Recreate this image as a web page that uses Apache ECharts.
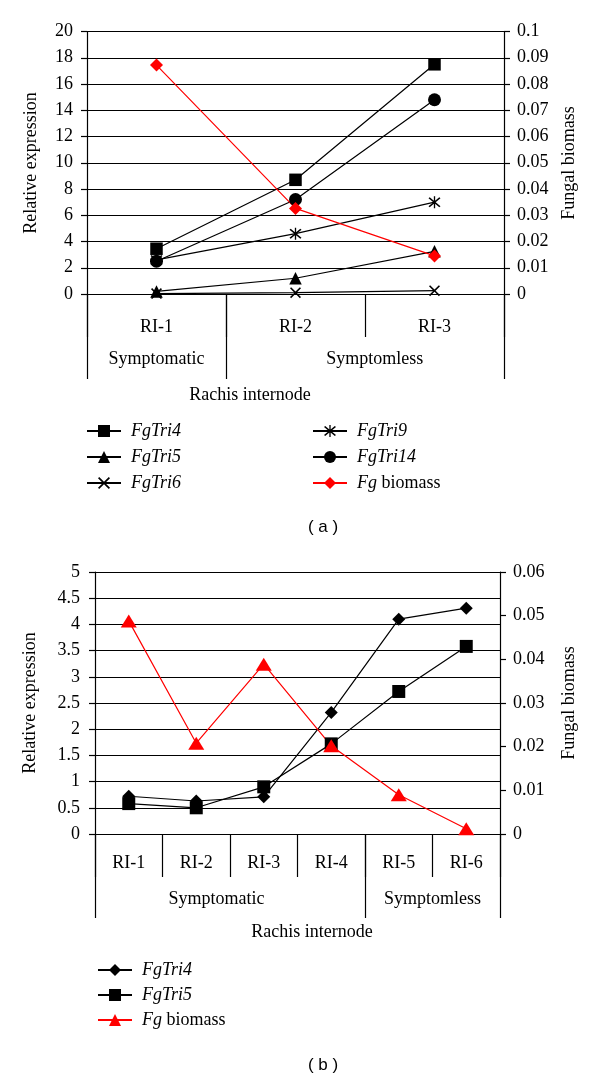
<!DOCTYPE html>
<html>
<head>
<meta charset="utf-8">
<script src="https://cdn.jsdelivr.net/npm/echarts@6/dist/echarts.min.js"></script>
<style>
html,body{margin:0;padding:0;background:#fff;}
#a{position:absolute;left:0;top:0;width:600px;height:545px;}
#b{position:absolute;left:0;top:545px;width:600px;height:536px;}
</style>
</head>
<body>
<div id="a"></div>
<div id="b"></div>
<script>
// ---------- Data: chart (a) ----------
const catsA = ['RI-1', 'RI-2', 'RI-3'];
const groupsA = ['Symptomatic', 'Symptomless'];
const fgTri4A = [3.45, 8.7, 17.5];
const fgTri5A = [0.2, 1.2, 3.25];
const fgTri6A = [0.03, 0.1, 0.25];
const fgTri9A = [2.6, 4.6, 7.0];
const fgTri14A = [2.5, 7.2, 14.8];
const biomassA = [0.0872, 0.0326, 0.0145];

// ---------- Data: chart (b) ----------
const catsB = ['RI-1', 'RI-2', 'RI-3', 'RI-4', 'RI-5', 'RI-6'];
const groupsB = ['Symptomatic', 'Symptomless'];
const fgTri4B = [0.72, 0.63, 0.71, 2.32, 4.1, 4.31];
const fgTri5B = [0.58, 0.5, 0.9, 1.72, 2.72, 3.58];
const biomassB = [0.0488, 0.0208, 0.0389, 0.0202, 0.009, 0.0012];

const FONT = 'Liberation Serif';
const FS = 18;
const X_PATH = 'path://M0,1L1,0L5,4L9,0L10,1L6,5L10,9L9,10L5,6L1,10L0,9L4,5Z';
const AST_PATH = 'path://M0,1L1,0L5,4L9,0L10,1L6,5L10,9L9,10L5,6L1,10L0,9L4,5ZM4.45,-1L5.55,-1L5.55,11L4.45,11Z';

function legendFmt(name) {
  if (name === 'Fg biomass') return '{i|Fg} {n|biomass}';
  return '{i|' + name + '}';
}
const legendText = {
  color: '#000', fontFamily: FONT, fontSize: FS, padding: [0, 0, 0, 5], lineHeight: 17,
  rich: {
    i: { fontStyle: 'italic', fontFamily: FONT, fontSize: FS, color: '#000', lineHeight: 17 },
    n: { fontFamily: FONT, fontSize: FS, color: '#000', lineHeight: 17 }
  }
};
function lineSeries(name, data, symbol, size, color, yIdx) {
  return {
    name: name, type: 'line', data: data, xAxisIndex: 0, yAxisIndex: yIdx,
    symbol: symbol, symbolSize: size, showAllSymbol: true,
    lineStyle: { color: color, width: 1.2 },
    itemStyle: { color: color },
    emphasis: { disabled: true }, animation: false
  };
}
function fmtNum(v) { return String(+v.toFixed(3)); }

function buildOption(cfg) {
  return {
    animation: false,
    grid: { left: cfg.left, top: cfg.top, width: cfg.width, height: cfg.height, containLabel: false },
    xAxis: [
      {
        type: 'category', data: cfg.cats, boundaryGap: true,
        axisLine: { show: true, lineStyle: { color: '#000', width: 1.2 } },
        axisTick: { show: true, length: cfg.tickLen, lineStyle: { color: '#000', width: 1.2 } },
        axisLabel: { color: '#000', fontFamily: FONT, fontSize: FS, margin: cfg.labelMargin, interval: 0 },
        splitLine: { show: false }
      },
      {
        type: 'value', min: 0, max: cfg.cats.length, position: 'bottom',
        axisLine: { show: false },
        axisTick: { show: true, customValues: cfg.groupBounds, length: cfg.groupTickLen, lineStyle: { color: '#000', width: 1.2 } },
        axisLabel: {
          show: true, customValues: cfg.groupCenters, margin: cfg.groupMargin,
          color: '#000', fontFamily: FONT, fontSize: FS,
          formatter: function (v) {
            const i = cfg.groupCenters.indexOf(v);
            return i >= 0 ? cfg.groups[i] : '';
          }
        },
        splitLine: { show: false }
      }
    ],
    yAxis: [
      {
        type: 'value', min: 0, max: cfg.yMax, interval: cfg.yInt,
        axisLine: { show: true, lineStyle: { color: '#000', width: 1.2 } },
        axisTick: { show: true, length: 6, lineStyle: { color: '#000', width: 1.2 } },
        axisLabel: { color: '#000', fontFamily: FONT, fontSize: FS, margin: cfg.yLabelMargin, formatter: fmtNum },
        splitLine: { show: true, lineStyle: { color: '#000', width: 1.2 } }
      },
      {
        type: 'value', min: 0, max: cfg.y2Max, interval: 0.01, position: 'right',
        axisLine: { show: true, lineStyle: { color: '#000', width: 1.2 } },
        axisTick: { show: true, length: 6, lineStyle: { color: '#000', width: 1.2 } },
        axisLabel: { color: '#000', fontFamily: FONT, fontSize: FS, margin: 13, formatter: fmtNum },
        splitLine: { show: false }
      }
    ],
    legend: cfg.legends.map(function (lg) {
      return {
        data: lg.data, orient: 'vertical', left: lg.left, top: lg.top,
        itemWidth: 34, itemHeight: 15, itemGap: lg.gap, selectedMode: false,
        formatter: legendFmt, textStyle: legendText, padding: 0
      };
    }),
    series: cfg.series,
    graphic: cfg.graphic
  };
}

function rotText(x, y, text) {
  return { type: 'text', x: x, y: y, rotation: Math.PI / 2,
    style: { text: text, fontFamily: FONT, fontSize: FS, fill: '#000', align: 'center', verticalAlign: 'middle' } };
}
function plainText(x, y, text, font, size) {
  return { type: 'text', x: x, y: y,
    style: { text: text, fontFamily: font, fontSize: size, fill: '#000', align: 'center', verticalAlign: 'middle' } };
}

// ---------- Chart (a) ----------
const chartA = echarts.init(document.getElementById('a'), null, { renderer: 'canvas' });
chartA.setOption(buildOption({
  left: 87, top: 31.5, width: 417, height: 262.5,
  cats: catsA, groups: groupsA, groupBounds: [0, 1, 3], groupCenters: [0.5, 2.07],
  tickLen: 43, labelMargin: 24, groupTickLen: 85, groupMargin: 56, yLabelMargin: 14,
  yMax: 20, yInt: 2, y2Max: 0.1,
  legends: [
    { data: ['FgTri4', 'FgTri5', 'FgTri6'], left: 86, top: 422, gap: 8 },
    { data: ['FgTri9', 'FgTri14', 'Fg biomass'], left: 312, top: 422, gap: 8 }
  ],
  series: [
    lineSeries('FgTri4', fgTri4A, 'rect', 12.5, '#000', 0),
    lineSeries('FgTri5', fgTri5A, 'triangle', 12.5, '#000', 0),
    lineSeries('FgTri6', fgTri6A, X_PATH, 11, '#000', 0),
    lineSeries('FgTri9', fgTri9A, AST_PATH, 12, '#000', 0),
    lineSeries('FgTri14', fgTri14A, 'circle', 13, '#000', 0),
    lineSeries('Fg biomass', biomassA, 'diamond', 13, '#ff0000', 1)
  ],
  graphic: [
    rotText(31, 163, 'Relative expression'),
    rotText(569, 163, 'Fungal biomass'),
    plainText(250, 395, 'Rachis internode', FONT, FS),
    plainText(323, 527, '( a )', 'Liberation Sans', 17)
  ]
}));

// ---------- Chart (b) ----------
const chartB = echarts.init(document.getElementById('b'), null, { renderer: 'canvas' });
chartB.setOption(buildOption({
  left: 95, top: 27, width: 405, height: 262,
  cats: catsB, groups: groupsB, groupBounds: [0, 4, 6], groupCenters: [1.8, 5.0],
  tickLen: 43, labelMargin: 20, groupTickLen: 84, groupMargin: 56, yLabelMargin: 15,
  yMax: 5, yInt: 0.5, y2Max: 0.06,
  legends: [
    { data: ['FgTri4', 'FgTri5', 'Fg biomass'], left: 97, top: 416, gap: 7 }
  ],
  series: [
    lineSeries('FgTri4', fgTri4B, 'diamond', 13, '#000', 0),
    lineSeries('FgTri5', fgTri5B, 'rect', 13, '#000', 0),
    lineSeries('Fg biomass', biomassB, 'triangle', [16, 13], '#ff0000', 1)
  ],
  graphic: [
    rotText(30, 158, 'Relative expression'),
    rotText(569, 158, 'Fungal biomass'),
    plainText(312, 387, 'Rachis internode', FONT, FS),
    plainText(323, 520, '( b )', 'Liberation Sans', 17)
  ]
}));
</script>
</body>
</html>
